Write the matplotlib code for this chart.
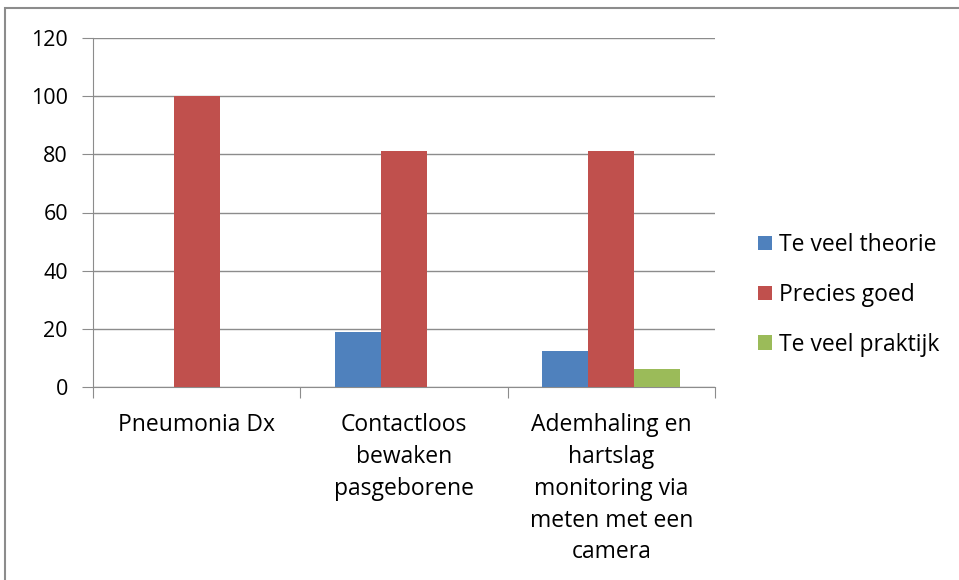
import matplotlib.pyplot as plt
import numpy as np
from matplotlib.patches import Rectangle

categories = [
    "Pneumonia Dx",
    "Contactloos\nbewaken\npasgeborene",
    "Ademhaling en\nhartslag\nmonitoring via\nmeten met een\ncamera",
]
series_names = ["Te veel theorie", "Precies goed", "Te veel praktijk"]
te_veel_theorie = [0, 18.75, 12.5]
precies_goed = [100, 81.25, 81.25]
te_veel_praktijk = [0, 0, 6.25]
colors = ["#4f81bd", "#c0504d", "#9bbb59"]
y_ticks = [0, 20, 40, 60, 80, 100, 120]

plt.rcParams["font.family"] = ["Open Sans", "DejaVu Sans"]

fig = plt.figure(figsize=(9.59, 5.8), dpi=100)
# grey outer frame (only left and top edges are visible in the crop)
fig.patches.append(
    Rectangle((5 / 959, -0.1), 1.2, 1.1 - 8 / 580, transform=fig.transFigure,
              fill=False, edgecolor="#8c8c8c", linewidth=1.5)
)
ax = fig.add_axes([93 / 959, 1 - 387 / 580, 622 / 959, 349 / 580])

x = np.arange(len(categories))
width = 0.222
for i, (vals, name) in enumerate(zip([te_veel_theorie, precies_goed, te_veel_praktijk], series_names)):
    ax.bar(x + (i - 1) * width, vals, width, color=colors[i], label=name, zorder=3)

ax.set_xlim(-0.5, len(categories) - 0.5)
ax.set_ylim(0, 120)
ax.set_yticks(y_ticks)
ax.tick_params(axis="y", labelsize=15.5, length=8, color="#8c8c8c", pad=10)
ax.yaxis.grid(True, color="#8c8c8c", linewidth=1, zorder=0)

# category boundaries carry the tick marks, labels sit at the centres
ax.set_xticks(np.arange(len(categories) + 1) - 0.5)
ax.set_xticklabels([])
ax.set_xticks(x, minor=True)
ax.set_xticklabels(categories, minor=True, fontsize=16.5, linespacing=1.43, va="top")
ax.tick_params(axis="x", which="major", length=8, color="#8c8c8c")
ax.tick_params(axis="x", which="minor", length=0, pad=19)

for side in ["top", "right"]:
    ax.spines[side].set_visible(False)
for side in ["left", "bottom"]:
    ax.spines[side].set_color("#8c8c8c")

ax.legend(loc="center left", bbox_to_anchor=(1.036, 0.264), frameon=False,
          fontsize=16.5, handlelength=0.6, handleheight=0.6, labelspacing=1.12,
          handletextpad=0.3)

fig.savefig("out.png", dpi=100)
